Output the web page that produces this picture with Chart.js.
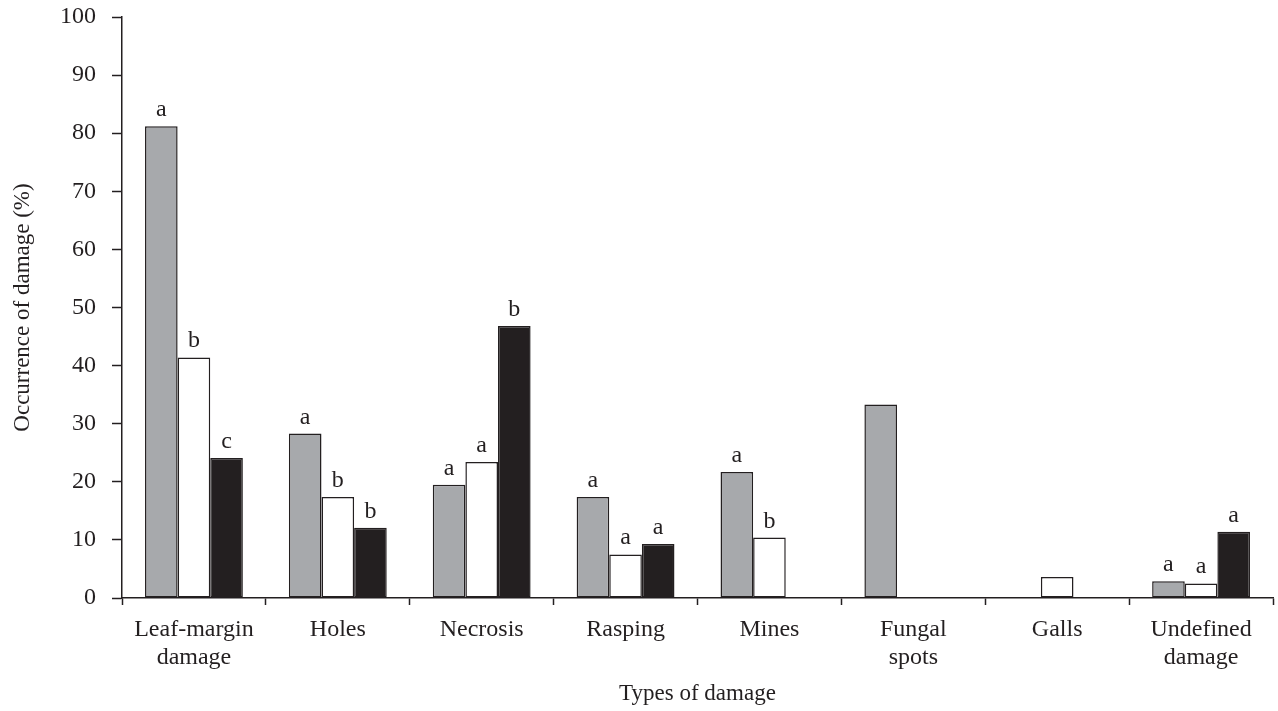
<!DOCTYPE html>
<html lang="en">
<head>
  <meta charset="UTF-8" />
  <title>Types of damage</title>
  <script src="https://cdn.jsdelivr.net/npm/chart.js"></script>
  <style>
    html, body { margin: 0; padding: 0; background: #fff; }
    #wrap { width: 1278px; height: 711px; }
  </style>
</head>
<body>
  <div id="wrap"><canvas id="chartDamage"></canvas></div>

  <script>
    const categorias = [
      ['Leaf-margin', 'damage'], 'Holes', 'Necrosis', 'Rasping',
      'Mines', ['Fungal', 'spots'], 'Galls', ['Undefined', 'damage']
    ];

    const serieCinza = [81.2, 28.3, 19.5, 17.4, 21.7, 33.3, 0, 2.9];
    const serieBranca = [41.4, 17.4, 23.4, 7.5, 10.4, 0, 3.6, 2.5];
    const seriePreta = [24.1, 12.1, 46.8, 9.3, 0, 0, 0, 11.4];

    const letrasCinza = ['a', 'a', 'a', 'a', 'a', '', '', 'a'];
    const letrasBranca = ['b', 'b', 'a', 'a', 'b', '', '', 'a'];
    const letrasPreta = ['c', 'b', 'b', 'a', '', '', '', 'a'];

    const yTicks = [0, 10, 20, 30, 40, 50, 60, 70, 80, 90, 100];

    const tinta = '#231f20';
    const fonte = 'Liberation Serif';

    const letras = [letrasCinza, letrasBranca, letrasPreta];

    // letras de significancia acima das barras
    const pluginLetras = {
      id: 'letras',
      afterDatasetsDraw(chart) {
        const ctx = chart.ctx;
        ctx.save();
        ctx.fillStyle = tinta;
        ctx.font = '24px "' + fonte + '"';
        ctx.textAlign = 'center';
        ctx.textBaseline = 'alphabetic';
        chart.data.datasets.forEach((ds, i) => {
          const meta = chart.getDatasetMeta(i);
          meta.data.forEach((bar, j) => {
            const txt = letras[i][j];
            if (!txt) return;
            ctx.fillText(txt, bar.x, bar.y - 10);
          });
        });
        ctx.restore();
      }
    };

    const barra = (dados, cor) => ({
      data: dados,
      backgroundColor: cor,
      borderColor: tinta,
      borderWidth: 1.5,
      borderSkipped: false,
      categoryPercentage: 0.68,
      barPercentage: 1.0
    });

    new Chart(document.getElementById('chartDamage'), {
      type: 'bar',
      data: {
        labels: categorias,
        datasets: [
          barra(serieCinza, '#a7a9ac'),
          barra(serieBranca, '#ffffff'),
          barra(seriePreta, tinta)
        ]
      },
      options: {
        responsive: true,
        maintainAspectRatio: false,
        animation: false,
        layout: { padding: { top: 17, right: 5, left: 0, bottom: 0 } },
        plugins: {
          legend: { display: false },
          tooltip: { enabled: false }
        },
        scales: {
          x: {
            offset: true,
            grid: {
              display: true,
              offset: true,
              drawOnChartArea: false,
              drawTicks: true,
              tickLength: 7,
              tickWidth: 1.5,
              color: tinta
            },
            border: { display: true, color: tinta, width: 1.5 },
            ticks: {
              color: tinta,
              padding: 11,
              maxRotation: 0,
              autoSkip: false,
              font: { family: fonte, size: 24, lineHeight: 1.15 }
            },
            title: {
              display: true,
              text: 'Types of damage',
              color: tinta,
              font: { family: fonte, size: 23 },
              padding: { top: 4, bottom: 3 }
            },
            afterFit: s => { s.height = 113; }
          },
          y: {
            min: 0,
            max: 100,
            afterBuildTicks: s => { s.ticks = yTicks.map(v => ({ value: v })); },
            grid: {
              display: true,
              drawOnChartArea: false,
              drawTicks: true,
              tickLength: 10,
              tickWidth: 1.5,
              color: tinta
            },
            border: { display: true, color: tinta, width: 1.5 },
            ticks: {
              color: tinta,
              padding: 16,
              font: { family: fonte, size: 24 }
            },
            title: {
              display: true,
              text: 'Occurrence of damage (%)',
              color: tinta,
              font: { family: fonte, size: 23 },
              padding: { top: 9, bottom: 10 }
            },
            afterFit: s => {
              s.width = 122;
              s.paddingTop = 0;
              s.paddingBottom = 0;
            }
          }
        }
      },
      plugins: [pluginLetras]
    });
  </script>
</body>
</html>
